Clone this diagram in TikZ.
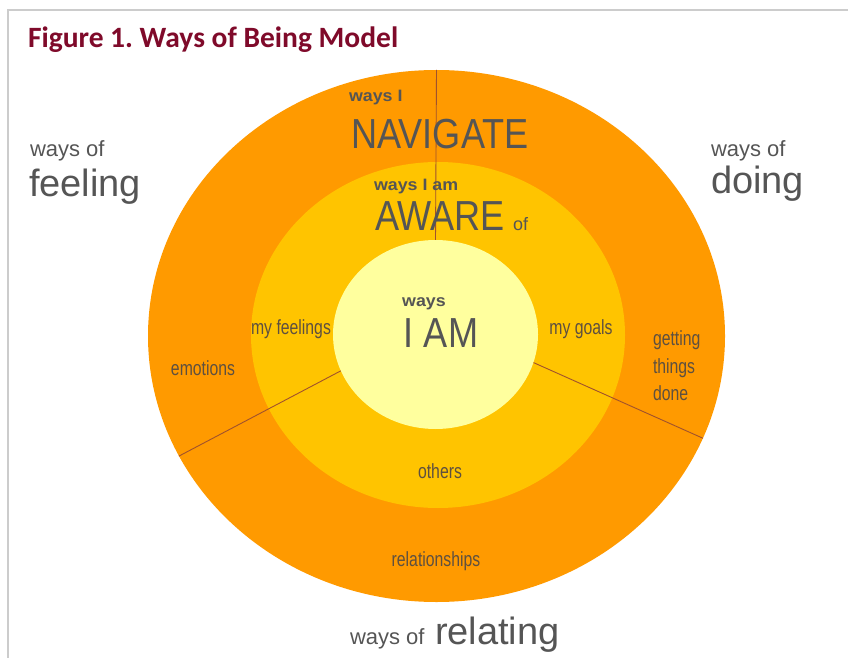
\documentclass[tikz,border=0pt]{standalone}
\usepackage{fontspec}
\usetikzlibrary{shapes.geometric}
\frenchspacing
\newfontfamily\titlefam{Carlito}
\newfontfamily\sansfam{Liberation Sans}
\newfontfamily\widebold{Liberation Sans}[FakeStretch=1.08]
\newfontfamily\narrowfam{Liberation Sans}[FakeStretch=0.86]
\newfontfamily\condfam{Liberation Sans}[FakeStretch=0.77]
\definecolor{ringouter}{HTML}{FF9A00}
\definecolor{ringmid}{HTML}{FFC400}
\definecolor{ringinner}{HTML}{FFFF9E}
\definecolor{divline}{HTML}{A0522D}
\definecolor{titlered}{HTML}{7F0A2A}
\definecolor{textgray}{HTML}{555555}
\definecolor{lblgray}{HTML}{5E5040}
\definecolor{framegray}{HTML}{CCCCCC}
\tikzset{
  ring/.style={ellipse, inner sep=0pt, draw=none},
  divider/.style={draw=divline, line width=0.9pt},
  txt/.style={inner sep=0pt, outer sep=0pt},
  outerword/.style={txt, text=textgray, font=\sansfam\fontsize{22}{26}\selectfont},
  outerbig/.style={txt, text=textgray, font=\sansfam\fontsize{38}{44}\selectfont},
  boldlbl/.style={txt, text=textgray, font=\widebold\bfseries\fontsize{16.5}{19}\selectfont},
  bigword/.style={txt, text=textgray, font=\narrowfam\fontsize{42}{48}\selectfont},
  ringlbl/.style={txt, text=lblgray, font=\condfam\fontsize{20.5}{27.5}\selectfont},
}
\begin{document}
\begin{tikzpicture}[x=1pt, y=-1pt]
\useasboundingbox (0,0) rectangle (848,658);
\fill[white] (0,0) rectangle (848,658);
\draw[framegray, line width=1.5pt] (8,658) -- (8,10) -- (848,10);

% title
\node[txt, anchor=base west, text=titlered, font=\titlefam\bfseries\fontsize{29.5}{34}\selectfont] (title) at (28,48) {Figure 1. Ways of Being Model};

% rings
\node[ring, fill=ringouter, minimum width=577pt, minimum height=532pt] (outer) at (436.5,336) {};
\node[ring, fill=ringmid, minimum width=374pt, minimum height=346pt] (middle) at (438,335) {};
\node[ring, fill=ringinner, minimum width=205pt, minimum height=189pt] (inner) at (435.5,334.5) {};

% dividers
\draw[divider] (inner.90) -- (outer.90);
\draw[divider] (inner.201) -- (outer.205.7);
\draw[divider] (inner.344.4) -- (outer.339.7);

% outer ring texts
\node[boldlbl, anchor=base west] (waysi) at (349,102) {ways I};
\node[bigword, anchor=base] (navigate) at (440,149) {NAVIGATE};
\node[ringlbl, anchor=base] (emotions) at (203,375) {emotions};
\node[ringlbl, anchor=north west, align=left] (getting) at (653,331) {getting\\things\\done};
\node[ringlbl, anchor=base] (relationships) at (436,566) {relationships};

% middle ring texts
\node[boldlbl, anchor=base west] (waysiam) at (374,190) {ways I am};
\node[bigword, anchor=base] (aware) at (440,230) {AWARE};
\node[txt, anchor=base west, text=textgray, font=\sansfam\fontsize{18}{20}\selectfont] (awareof) at (513,230) {of};
\node[ringlbl, anchor=base] (myfeelings) at (291,334) {my feelings};
\node[ringlbl, anchor=base] (mygoals) at (581,334) {my goals};
\node[ringlbl, anchor=base] (others) at (440,478) {others};

% inner texts
\node[boldlbl, anchor=base] (waysin) at (424,306) {ways};
\node[bigword, anchor=base] (iam) at (441,347) {I AM};

% outside labels
\node[outerword, anchor=base west] (waysofl) at (30,157) {ways of};
\node[outerbig, anchor=base west] (feeling) at (29,196) {feeling};
\node[outerword, anchor=base west] (waysofr) at (711,156) {ways of};
\node[outerbig, anchor=base west] (doing) at (711,193) {doing};
\node[outerword, anchor=base west] (waysofb) at (350,644) {ways of};
\node[outerbig, anchor=base west] (relating) at (435,644) {relating};
\end{tikzpicture}
\end{document}
